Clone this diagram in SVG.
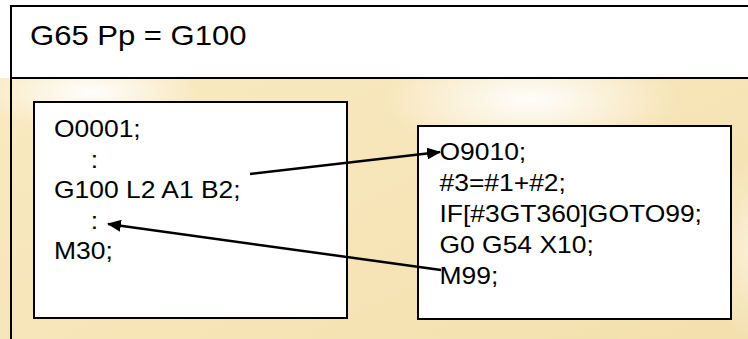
<svg xmlns="http://www.w3.org/2000/svg" width="748" height="339" viewBox="0 0 748 339">
  <defs>
    <linearGradient id="bg" x1="0" y1="0" x2="1" y2="1">
      <stop offset="0" stop-color="#FAEBC4"/>
      <stop offset="1" stop-color="#F4E0AE"/>
    </linearGradient>
    <radialGradient id="glow1" cx="0.5" cy="0.5" r="0.5">
      <stop offset="0" stop-color="#FFFFFF" stop-opacity="0.95"/>
      <stop offset="1" stop-color="#FFFFFF" stop-opacity="0"/>
    </radialGradient>
    <marker id="ah" viewBox="0 0 14 12" refX="13" refY="6" markerWidth="14" markerHeight="12" markerUnits="userSpaceOnUse" orient="auto">
      <path d="M0,0 L14,6 L0,12 z" fill="#000"/>
    </marker>
    <style>
      .frame { fill: none; stroke: #000; stroke-width: 2; }
      .box { fill: #FFFFFF; stroke: #000; stroke-width: 2; }
      .code { font-family: "Liberation Sans", Arial, sans-serif; font-size: 23px; fill: #000; }
      .title { font-family: "Liberation Sans", Arial, sans-serif; font-size: 27px; fill: #000; }
      .conn { fill: none; stroke: #000; stroke-width: 2.5; marker-end: url(#ah); }
    </style>
  </defs>

  <!-- background -->
  <rect x="0" y="0" width="748" height="339" fill="url(#bg)"/>
  <ellipse cx="90" cy="92" rx="110" ry="40" fill="url(#glow1)"/>
  <ellipse cx="530" cy="100" rx="150" ry="55" fill="url(#glow1)"/>
  <ellipse cx="748" cy="250" rx="40" ry="90" fill="url(#glow1)" opacity="0.5"/>
  <rect x="0" y="0" width="748" height="78" fill="#FFFFFF"/>

  <!-- outer frame -->
  <g id="frame">
    <line class="frame" x1="11" y1="6" x2="748" y2="6"/>
    <line class="frame" x1="11" y1="5" x2="11" y2="339"/>
    <line class="frame" x1="10" y1="78" x2="748" y2="78"/>
  </g>

  <g id="title">
    <text class="title" transform="translate(30,44.5) scale(1.15,1)" x="0" y="0">G65 Pp = G100</text>
  </g>

  <g id="main-program">
    <rect class="box" x="34" y="102" width="313" height="216"/>
    <g transform="translate(54,0) scale(1.15,1)">
      <text class="code" x="0" y="137.5">O0001;</text>
      <text class="code" x="32" y="168">:</text>
      <text class="code" x="0" y="198.5">G100 L2 A1 B2;</text>
      <text class="code" x="32" y="229">:</text>
      <text class="code" x="0" y="259.5">M30;</text>
    </g>
  </g>

  <g id="macro-program">
    <rect x="420" y="127" width="312" height="193" fill="#b0b0b0"/>
    <rect class="box" x="418" y="126" width="313" height="193"/>
    <g transform="translate(439.5,0) scale(1.15,1)">
      <text class="code" x="0" y="160.5">O9010;</text>
      <text class="code" x="0" y="191.5">#3=#1+#2;</text>
      <text class="code" x="0" y="222.5">IF[#3GT360]GOTO99;</text>
      <text class="code" x="0" y="253.5">G0 G54 X10;</text>
      <text class="code" x="0" y="284.5">M99;</text>
    </g>
  </g>

  <g id="connectors">
    <line class="conn" x1="250" y1="174" x2="440" y2="152"/>
    <line class="conn" x1="441" y1="270" x2="108" y2="224"/>
  </g>
</svg>
